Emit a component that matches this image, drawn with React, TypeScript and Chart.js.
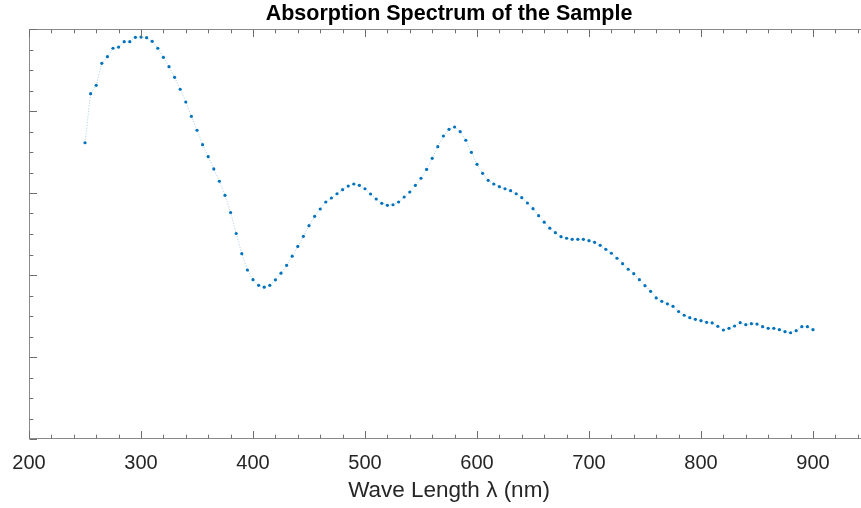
import React, { useEffect, useRef } from "react";
import { Chart, registerables } from "chart.js";

Chart.register(...registerables);

const chartTitle = "Absorption Spectrum of the Sample";
const xAxisTitle = "Wave Length λ (nm)";

const wavelengths = [
  250, 255, 260, 265, 270, 275, 280, 285, 290, 295,
  300, 305, 310, 315, 320, 325, 330, 335, 340, 345,
  350, 355, 360, 365, 370, 375, 380, 385, 390, 395,
  400, 405, 410, 415, 420, 425, 430, 435, 440, 445,
  450, 455, 460, 465, 470, 475, 480, 485, 490, 495,
  500, 505, 510, 515, 520, 525, 530, 535, 540, 545,
  550, 555, 560, 565, 570, 575, 580, 585, 590, 595,
  600, 605, 610, 615, 620, 625, 630, 635, 640, 645,
  650, 655, 660, 665, 670, 675, 680, 685, 690, 695,
  700, 705, 710, 715, 720, 725, 730, 735, 740, 745,
  750, 755, 760, 765, 770, 775, 780, 785, 790, 795,
  800, 805, 810, 815, 820, 825, 830, 835, 840, 845,
  850, 855, 860, 865, 870, 875, 880, 885, 890, 895,
  900,
];

const absorbance = [
  3.613, 4.211, 4.313, 4.582, 4.662, 4.765, 4.780, 4.845, 4.845, 4.899,
  4.902, 4.894, 4.850, 4.765, 4.655, 4.540, 4.411, 4.265, 4.110, 3.935,
  3.765, 3.589, 3.443, 3.293, 3.143, 2.972, 2.762, 2.506, 2.260, 2.061,
  1.943, 1.874, 1.851, 1.874, 1.941, 2.022, 2.118, 2.229, 2.348, 2.472,
  2.601, 2.716, 2.805, 2.890, 2.939, 2.991, 3.040, 3.085, 3.110, 3.094,
  3.052, 2.988, 2.927, 2.874, 2.850, 2.857, 2.890, 2.951, 3.012, 3.094,
  3.180, 3.287, 3.423, 3.565, 3.695, 3.777, 3.805, 3.748, 3.643, 3.496,
  3.350, 3.240, 3.155, 3.110, 3.077, 3.052, 3.028, 2.991, 2.943, 2.878,
  2.809, 2.723, 2.644, 2.571, 2.516, 2.467, 2.448, 2.435, 2.435, 2.435,
  2.418, 2.399, 2.362, 2.313, 2.265, 2.204, 2.138, 2.070, 2.016, 1.943,
  1.870, 1.801, 1.720, 1.679, 1.649, 1.618, 1.555, 1.509, 1.479, 1.460,
  1.443, 1.423, 1.415, 1.374, 1.329, 1.350, 1.378, 1.418, 1.394, 1.406,
  1.402, 1.370, 1.350, 1.350, 1.333, 1.309, 1.296, 1.321, 1.370, 1.370,
  1.333,
];

const xTickValues = [200, 300, 400, 500, 600, 700, 800, 900];
const xLimits = [200, 950];
const yLimits = [0, 5];
const xMinorStep = 20;
const xMajorStep = 100;
const yMinorStep = 0.25;
const yMajorStep = 1;

const FONT = "'Liberation Sans', Arial, Helvetica, sans-serif";

const matlabAxes = {
  id: "matlabAxes",
  afterDatasetsDraw(chart: any) {
    const { ctx, chartArea, scales } = chart;
    const { left, right, top, bottom } = chartArea;
    const xs = scales.x;
    const ys = scales.y;
    const L = Math.round(left) + 0.5;
    const R = Math.round(right) - 0.5;
    const T = Math.round(top) + 0.5;
    const B = Math.round(bottom) - 0.5;
    ctx.save();
    ctx.lineWidth = 1;
    ctx.strokeStyle = "#8a8a8a";
    ctx.beginPath();
    ctx.moveTo(L, T);
    ctx.lineTo(R, T);
    ctx.lineTo(R, B);
    ctx.lineTo(L, B);
    ctx.closePath();
    ctx.stroke();

    const major = 7.5;
    const minor = 3.8;
    ctx.strokeStyle = "#6e6e6e";
    ctx.beginPath();
    const nx = Math.round((xLimits[1] - xLimits[0]) / xMinorStep);
    for (let i = 0; i <= nx; i++) {
      const v = xLimits[0] + i * xMinorStep;
      const isMajor = Math.abs(v / xMajorStep - Math.round(v / xMajorStep)) < 1e-6;
      const len = isMajor ? major : minor;
      const px = Math.round(xs.getPixelForValue(v)) + 0.5;
      ctx.moveTo(px, B);
      ctx.lineTo(px, B - len);
      ctx.moveTo(px, T);
      ctx.lineTo(px, T + len);
    }
    const ny = Math.round((yLimits[1] - yLimits[0]) / yMinorStep);
    for (let i = 0; i <= ny; i++) {
      const v = yLimits[0] + i * yMinorStep;
      const isMajor = Math.abs(v / yMajorStep - Math.round(v / yMajorStep)) < 1e-6;
      const len = isMajor ? major : minor;
      const py = Math.round(ys.getPixelForValue(v)) + 0.5;
      ctx.moveTo(L, py);
      ctx.lineTo(L + len, py);
      ctx.moveTo(R, py);
      ctx.lineTo(R - len, py);
    }
    ctx.stroke();
    ctx.restore();
  },
};

export default function App() {
  const ref = useRef<HTMLCanvasElement>(null);

  useEffect(() => {
    const canvas = ref.current;
    if (!canvas) return;
    const points = wavelengths.map((w, i) => ({ x: w, y: absorbance[i] }));
    const chart = new Chart(canvas, {
      type: "scatter",
      data: {
        datasets: [
          {
            data: points,
            showLine: true,
            borderColor: "rgba(0,114,189,0.45)",
            borderWidth: 0.7,
            borderDash: [1.2, 1.6],
            pointRadius: 1.6,
            pointBorderWidth: 0,
            pointBackgroundColor: "#0072BD",
            pointHoverRadius: 1.6,
          },
        ],
      },
      options: {
        responsive: false,
        animation: false,
        devicePixelRatio: 1,
        layout: { padding: { left: 0, right: 11, top: 0, bottom: 0 } },
        plugins: {
          legend: { display: false },
          tooltip: { enabled: false },
          title: {
            display: true,
            text: chartTitle,
            fullSize: false,
            color: "#000000",
            font: { family: FONT, size: 21.5, weight: "bold" },
            padding: { top: 1.4, bottom: 1.8 },
          },
        },
        scales: {
          x: {
            type: "linear",
            position: "bottom",
            min: xLimits[0],
            max: xLimits[1],
            afterBuildTicks: (s: any) => {
              s.ticks = xTickValues.map((v) => ({ value: v }));
            },
            afterFit: (s: any) => {
              s.height = 69;
            },
            grid: { display: false, drawTicks: false },
            border: { display: false },
            ticks: {
              color: "#262626",
              font: { family: FONT, size: 20 },
              padding: 12,
              maxRotation: 0,
              autoSkip: false,
            },
            title: {
              display: true,
              text: xAxisTitle,
              color: "#262626",
              font: { family: FONT, size: 22.5 },
              padding: { top: 0, bottom: 3.8 },
            },
          },
          y: {
            type: "linear",
            min: yLimits[0],
            max: yLimits[1],
            afterFit: (s: any) => {
              s.width = 29;
            },
            grid: { display: false, drawTicks: false },
            border: { display: false },
            ticks: { display: false },
          },
        },
      },
      plugins: [matlabAxes],
    });
    return () => chart.destroy();
  }, []);

  return (
    <div
      style={{
        position: "fixed",
        left: 0,
        top: 0,
        width: 861,
        height: 508,
        overflow: "hidden",
        background: "#ffffff",
      }}
    >
      <canvas ref={ref} width={880} height={508} style={{ display: "block", width: 880, height: 508 }} />
    </div>
  );
}
